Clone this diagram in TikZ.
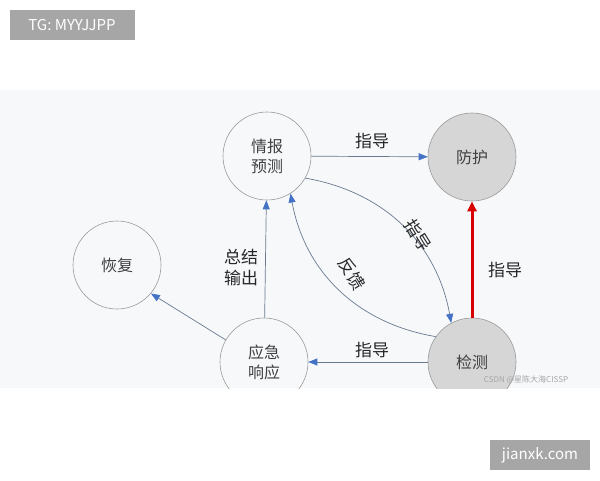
\documentclass[tikz,border=0pt]{standalone}
\usepackage{fontspec}
\setmainfont{Noto Sans CJK SC}
\usetikzlibrary{arrows.meta}
\definecolor{band}{HTML}{F6F8FA}
\definecolor{tipblue}{HTML}{4472C4}
\definecolor{lineg}{HTML}{6A7A90}
\definecolor{fillg}{HTML}{D6D6D6}
\definecolor{tagg}{HTML}{A6A6A6}
\begin{document}
\begin{tikzpicture}[x=1pt,y=-1pt,
  st/.style={circle,draw=gray!80,line width=0.6pt,minimum size=88pt,inner sep=0pt,align=center,font=\fontsize{16}{20}\selectfont,text=black!75},
  gr/.style={st,fill=fillg},
  ar/.style={draw=lineg,line width=0.7pt,-{Triangle[length=9pt,width=7pt,fill=tipblue,color=tipblue]}},
  lb/.style={font=\fontsize{17}{21}\selectfont,text=black!85,align=center},
  tag/.style={fill=tagg,text=white,font=\fontsize{15}{17}\selectfont,inner sep=0pt}]
\useasboundingbox (0,0) rectangle (600,480);
\fill[white] (0,0) rectangle (600,480);
\fill[band] (0,90) rectangle (600,388);
\begin{scope}
\clip (0,90) rectangle (600,388);
\node[st] (qb) at (267,156) {情报\\预测};
\node[gr] (fh) at (472,157) {防护};
\node[st] (hf) at (117,265) {恢复};
\node[st] (yj) at (264,362) {应急\\响应};
\node[gr] (jc) at (472,362) {检测};
\draw[ar] (qb.-30) to[bend left=35] (jc.118);
\draw[ar] (jc.145) to[bend left=35] (qb.-58);
\draw[ar] (qb) -- (fh);
\draw[ar] (yj) -- (qb);
\draw[ar] (jc) -- (yj);
\draw[ar] (yj.150) -- (hf.-40);
\draw[line width=3pt,red!85!black,-{Triangle[length=10pt,width=9pt]}] (jc) -- (fh);
\node[lb] (l1) at (372,141) {指导};
\node[lb,rotate=-58] (l2) at (418,235) {指导};
\node[lb,rotate=-58] (l3) at (352,274) {反馈};
\node[lb] (l4) at (241,268) {总结\\输出};
\node[lb] (l5) at (372,350) {指导};
\node[lb] (l6) at (505,270) {指导};
\node[font=\fontsize{8}{9}\selectfont,text=gray!70] (wm) at (526,380) {CSDN @星陈大海CISSP};
\end{scope}
\node[tag,minimum width=125pt,minimum height=30pt] (tg) at (72,25) {TG: MYYJJPP};
\node[tag,minimum width=100pt,minimum height=30pt] (jx) at (540,455) {jianxk.com};
\end{tikzpicture}
\end{document}
